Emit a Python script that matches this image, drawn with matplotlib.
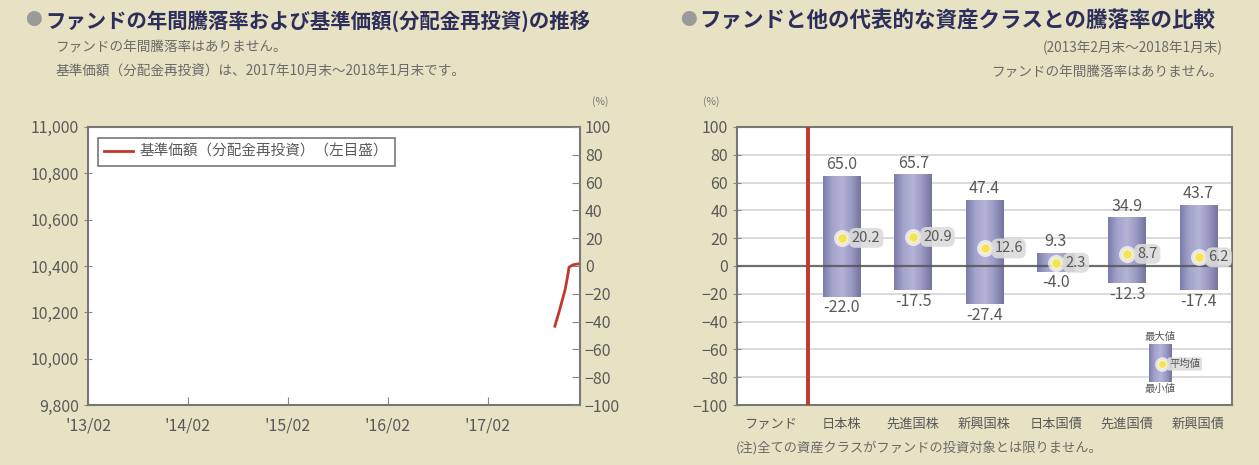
import numpy as np
import matplotlib
matplotlib.use("Agg")
from matplotlib import pyplot as plt
from matplotlib.colors import LinearSegmentedColormap
import datetime as dt

plt.rcParams['font.family'] = ['Noto Sans CJK JP', 'DejaVu Sans']

# ---- data: left chart (NAV, dividends reinvested)
nav_dates = ['2017-10-31', '2017-11-15', '2017-11-30', '2017-12-08',
             '2017-12-15', '2017-12-22', '2018-01-05', '2018-01-19', '2018-01-31']
nav_values = [10140, 10200, 10265, 10300, 10345, 10395, 10405, 10408, 10410]
left_xticks = ['2013-02-28', '2014-02-28', '2015-02-28', '2016-02-29', '2017-02-28']
left_xticklabels = ["'13/02", "'14/02", "'15/02", "'16/02", "'17/02"]

# ---- data: right chart (return comparison)
categories = ['ファンド', '日本株', '先進国株', '新興国株', '日本国債', '先進国債', '新興国債']
max_vals = [None, 65.0, 65.7, 47.4, 9.3, 34.9, 43.7]
min_vals = [None, -22.0, -17.5, -27.4, -4.0, -12.3, -17.4]
avg_vals = [None, 20.2, 20.9, 12.6, 2.3, 8.7, 6.2]

BG = '#e7e2c3'
TXT = '#595959'
SUB = '#6a6a6a'
TITLE = '#2e2e5c'
RED = '#c0392b'

fig = plt.figure(figsize=(12.59, 4.65), dpi=100, facecolor=BG)

# titles
fig.text(0.020, 0.955, '●', color='#9a9a9a', fontsize=12, va='center')
fig.text(0.036, 0.955, 'ファンドの年間騰落率および基準価額(分配金再投資)の推移',
         color=TITLE, fontsize=14.7, fontweight='bold', va='center')
fig.text(0.044, 0.898, 'ファンドの年間騰落率はありません。', color=SUB, fontsize=9.8, va='center')
fig.text(0.044, 0.845, '基準価額（分配金再投資）は、2017年10月末～2018年1月末です。',
         color=SUB, fontsize=9.8, va='center')

fig.text(0.540, 0.955, '●', color='#9a9a9a', fontsize=12, va='center')
fig.text(0.555, 0.955, 'ファンドと他の代表的な資産クラスとの騰落率の比較',
         color=TITLE, fontsize=15.5, fontweight='bold', va='center')
fig.text(0.971, 0.898, '(2013年2月末～2018年1月末)', color=SUB, fontsize=9.8,
         va='center', ha='right')
fig.text(0.971, 0.845, 'ファンドの年間騰落率はありません。', color=SUB, fontsize=9.8,
         va='center', ha='right')

# ---------------- left chart
ax1 = fig.add_axes([0.0699, 0.129, 0.3908, 0.598])
ax1.set_facecolor('white')
d = [dt.datetime.strptime(s, '%Y-%m-%d') for s in nav_dates]
ax1.plot(d, nav_values, color=RED, lw=2, label='基準価額（分配金再投資）（左目盛）')
ax1.set_xlim(dt.datetime(2013, 2, 28), dt.datetime(2018, 1, 31))
ax1.set_ylim(9800, 11000)
ax1.set_yticks(np.arange(9800, 11001, 200))
ax1.set_yticklabels([f'{v:,}' for v in range(9800, 11001, 200)])
ax1.set_xticks([dt.datetime.strptime(s, '%Y-%m-%d') for s in left_xticks])
ax1.set_xticklabels(left_xticklabels)
ax1.tick_params(axis='y', direction='inout', length=6, colors='#888888', labelcolor=TXT, labelsize=11.5)
ax1.tick_params(axis='x', direction='in', length=6, colors='#888888', labelcolor=TXT, labelsize=11.5, pad=9)
for s in ax1.spines.values():
    s.set_color('#777777')
    s.set_linewidth(1.5)
leg = ax1.legend(loc='upper left', fontsize=10.5, frameon=True, fancybox=False,
                 borderpad=0.45, handlelength=2.0, handletextpad=0.4,
                 bbox_to_anchor=(0.005, 0.985))
leg.get_frame().set_edgecolor('#555555')
leg.get_frame().set_linewidth(1.2)
for t in leg.get_texts():
    t.set_color(TXT)

ax1r = ax1.twinx()
ax1r.set_ylim(-100, 100)
ax1r.set_yticks(np.arange(-100, 101, 20))
ax1r.tick_params(axis='y', direction='in', length=6, colors='#888888', labelcolor=TXT, labelsize=11.5)
for s in ax1r.spines.values():
    s.set_visible(False)
fig.text(0.477, 0.782, '(%)', color='#777777', fontsize=7.5, ha='center', va='center')

# ---------------- right chart
ax2 = fig.add_axes([0.5854, 0.129, 0.3932, 0.598])
ax2.set_facecolor('white')
x = np.arange(len(categories))
ax2.set_xlim(-0.47, 6.47)
ax2.set_ylim(-100, 100)
for g in np.arange(-80, 81, 20):
    if g != 0:
        ax2.axhline(g, color='#d4d4d4', lw=1.2, zorder=1)

bar_cmap = LinearSegmentedColormap.from_list(
    'bar', ['#7c7cac', '#a4a4cc', '#b4b4d6', '#9a9ac4', '#74749f'])
grad = np.linspace(0, 1, 64).reshape(1, -1)
w = 0.53
for xi, lo, hi, av in zip(x, min_vals, max_vals, avg_vals):
    if hi is None:
        continue
    ax2.imshow(grad, cmap=bar_cmap, aspect='auto', extent=[xi - w / 2, xi + w / 2, lo, hi],
               zorder=2, interpolation='bicubic')
    ax2.text(xi, hi + 2, f'{hi:.1f}', ha='center', va='bottom', fontsize=11.5, color=TXT, zorder=6)
    ax2.text(xi, lo - 2, f'{lo:.1f}', ha='center', va='top', fontsize=11.5, color=TXT, zorder=6)
    ax2.scatter([xi], [av], s=150, color='white', alpha=0.7, zorder=4, linewidths=0)
    ax2.scatter([xi], [av], s=50, color='#f2e45a', edgecolors='#fff6b0', linewidths=1, zorder=5)
    ax2.text(xi + 0.14, av, f'{av:.1f}', ha='left', va='center', fontsize=10.5, color=TXT, zorder=6,
             bbox=dict(boxstyle='round,pad=0.2,rounding_size=0.45', fc='#dcdcdc', ec='none', alpha=0.9))

ax2.axhline(0, color='#555555', lw=1.6, zorder=3, alpha=0.85)
ax2.axvline(0.52, color=RED, lw=2.8, zorder=3)

# explanation key (max / mean / min)
kx, kw, klo, khi, kav = 5.46, 0.31, -83.5, -56.5, -70.5
ax2.imshow(grad, cmap=bar_cmap, aspect='auto', extent=[kx - kw / 2, kx + kw / 2, klo, khi],
           zorder=2, interpolation='bicubic')
ax2.scatter([kx + 0.03], [kav], s=110, color='white', alpha=0.7, zorder=4, linewidths=0)
ax2.scatter([kx + 0.03], [kav], s=35, color='#f2e45a', edgecolors='#fff6b0', linewidths=1, zorder=5)
ax2.text(kx + 0.13, kav, '平均値', ha='left', va='center', fontsize=7.5, color=TXT, zorder=6,
         bbox=dict(boxstyle='round,pad=0.15', fc='#dcdcdc', ec='none', alpha=0.9))
ax2.text(kx, khi + 1.5, '最大値', ha='center', va='bottom', fontsize=7.5, color=TXT)
ax2.text(kx, klo - 1.5, '最小値', ha='center', va='top', fontsize=7.5, color=TXT)

ax2.set_yticks(np.arange(-100, 101, 20))
ax2.set_xticks(x)
ax2.set_xticklabels(categories)
ax2.tick_params(axis='y', direction='inout', length=6, colors='#888888', labelcolor=TXT, labelsize=11.5)
ax2.tick_params(axis='x', length=0, labelcolor=TXT, labelsize=9.5, pad=9)
for s in ax2.spines.values():
    s.set_color('#777777')
    s.set_linewidth(1.5)
fig.text(0.565, 0.782, '(%)', color='#777777', fontsize=7.5, ha='center', va='center')
fig.text(0.584, 0.038, '(注)全ての資産クラスがファンドの投資対象とは限りません。',
         color=SUB, fontsize=9.5, va='center')

fig.savefig('out.png', dpi=100, facecolor=BG)
